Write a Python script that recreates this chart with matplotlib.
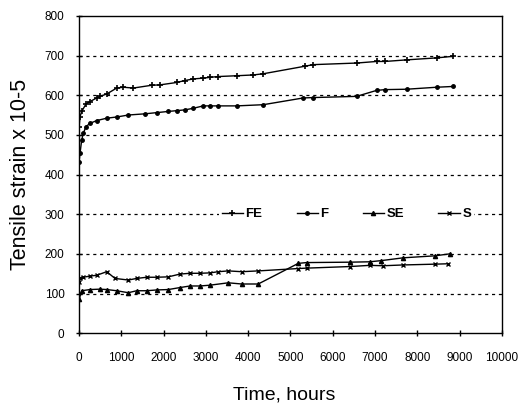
import numpy as np
import matplotlib
matplotlib.use("Agg")
import matplotlib.pyplot as plt

plt.rcParams['font.family'] = ['Liberation Sans', 'DejaVu Sans']

# Time (hours) and tensile strain (x 10-5)
fe_t = [0, 24, 63, 165, 260, 418, 496, 655, 891, 1048, 1284, 1718, 1915, 2310,
        2506, 2703, 2939, 3097, 3294, 3728, 4121, 4357, 5343, 5539, 6564, 7037,
        7234, 7746, 8456, 8849]
fe_v = [520, 546, 559, 578, 584, 593, 597, 603, 618, 620, 618, 625, 626, 632,
        637, 641, 643, 645, 647, 649, 651, 654, 673, 677, 681, 685, 685, 689,
        694, 698]

f_t = [0, 24, 63, 102, 165, 260, 418, 655, 891, 1166, 1560, 1836, 2111, 2310,
       2506, 2703, 2939, 3097, 3294, 3728, 4357, 5303, 5539, 6564, 7037, 7234,
       7746, 8456, 8849]
f_v = [432, 454, 487, 504, 521, 529, 536, 542, 545, 550, 553, 556, 559, 561,
       563, 567, 573, 573, 573, 573, 576, 593, 594, 597, 612, 614, 615, 620, 622]

se_t = [0, 63, 260, 496, 655, 891, 1166, 1363, 1600, 1836, 2111, 2388, 2624,
        2860, 3097, 3530, 3846, 4239, 5186, 5383, 6407, 6879, 7154, 7667, 8416,
        8770]
se_v = [85, 107, 110, 111, 110, 107, 102, 107, 107, 109, 110, 115, 119, 119,
        121, 127, 124, 124, 176, 178, 179, 180, 183, 190, 195, 200]

s_t = [0, 24, 102, 260, 418, 655, 851, 1166, 1363, 1600, 1836, 2111, 2388,
       2624, 2860, 3097, 3294, 3530, 3846, 4239, 5186, 5383, 6407, 6879, 7194,
       7667, 8416, 8730]
s_v = [128, 138, 141, 144, 146, 155, 138, 134, 138, 141, 141, 142, 149, 151,
       151, 152, 155, 157, 155, 157, 163, 164, 168, 171, 170, 172, 174, 175]

fig = plt.figure(figsize=(5.2, 4.17), dpi=100)
ax = fig.add_axes([0.152, 0.201, 0.813, 0.761])

ax.plot(fe_t, fe_v, color='black', lw=1.0, marker='+', ms=4, mew=1.2, label='FE')
ax.plot(f_t, f_v, color='black', lw=1.0, marker='o', ms=2.5, label='F')
ax.plot(se_t, se_v, color='black', lw=1.0, marker='^', ms=3, label='SE')
ax.plot(s_t, s_v, color='black', lw=1.0, marker='x', ms=3.5, mew=1.0, label='S')

ax.set_xlim(0, 10000)
ax.set_ylim(0, 800)
ax.set_xticks(np.arange(0, 10001, 1000))
ax.set_yticks(np.arange(0, 801, 100))
for y in range(100, 800, 100):
    ax.axhline(y, color='black', lw=0.9, ls=(0, (2.5, 3)), zorder=0)

ax.tick_params(direction='inout', length=5, width=1, labelsize=8.5)
ax.tick_params(axis='x', pad=11)
ax.tick_params(axis='y', pad=8)
for sp in ax.spines.values():
    sp.set_linewidth(1.0)

ax.set_xlabel('Time, hours', fontsize=14, va='center')
ax.xaxis.set_label_coords(0.485, -0.196)
ax.set_ylabel('Tensile strain x 10-5', fontsize=15.5, va='center')
ax.yaxis.set_label_coords(-0.139, 0.5)

leg = ax.legend(loc='center', bbox_to_anchor=(0.632, 0.375), ncol=4, frameon=True,
                edgecolor='none', facecolor='white', framealpha=1,
                handlelength=1.6, columnspacing=2.6, handletextpad=0.2,
                borderpad=0.2, prop={'weight': 'bold', 'size': 9.5})

fig.savefig('out.png', dpi=100)
